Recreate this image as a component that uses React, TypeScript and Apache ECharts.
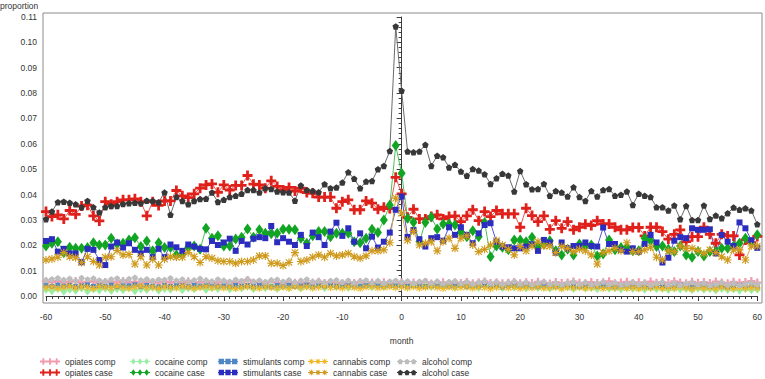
import React, { useEffect, useRef } from "react";
import * as echarts from "echarts";

// month index -60 .. 60
const months: number[] = Array.from({ length: 121 }, (_, i) => i - 60);

const opiatesComp = [
  .0058,.0055,.0060,.0054,.0057,.0059,.0053,.0056,.0058,.0052,
  .0055,.0057,.0053,.0059,.0054,.0056,.0052,.0058,.0055,.0053,
  .0057,.0054,.0056,.0051,.0058,.0053,.0055,.0057,.0052,.0054,
  .0056,.0051,.0055,.0053,.0063,.0052,.0054,.0050,.0056,.0053,
  .0051,.0055,.0052,.0054,.0050,.0053,.0056,.0051,.0054,.0052,
  .0050,.0054,.0051,.0055,.0049,.0053,.0051,.0054,.0050,.0052,
  .0054,.0050,.0053,.0051,.0055,.0049,.0052,.0054,.0050,.0053,
  .0051,.0055,.0050,.0053,.0057,.0051,.0054,.0050,.0052,.0055,
  .0050,.0054,.0051,.0056,.0052,.0049,.0055,.0051,.0053,.0057,
  .0052,.0050,.0055,.0051,.0054,.0058,.0050,.0053,.0056,.0051,
  .0054,.0050,.0057,.0052,.0055,.0051,.0058,.0053,.0050,.0056,
  .0052,.0055,.0051,.0057,.0053,.0050,.0056,.0052,.0055,.0059,
  .0053,
];
const opiatesCase = [
  .0333,.0313,.0320,.0304,.0337,.0322,.0355,.0358,.0316,.0296,
  .0372,.0362,.0372,.0379,.0379,.0383,.0372,.0316,.0372,.0357,
  .0375,.0375,.0416,.0395,.0388,.0403,.0425,.0438,.0442,.0409,
  .0438,.0418,.0436,.0436,.0475,.0441,.0438,.0425,.0454,.0432,
  .0418,.0428,.0414,.0425,.0408,.0405,.0390,.0390,.0390,.0346,
  .0372,.0379,.0340,.0340,.0375,.0366,.0342,.0350,.0345,.0468,
  .0403,.0310,.0342,.0304,.0304,.0313,.0320,.0304,.0313,.0316,
  .0293,.0316,.0340,.0297,.0333,.0313,.0337,.0324,.0324,.0324,
  .0271,.0346,.0317,.0293,.0316,.0263,.0297,.0267,.0293,.0261,
  .0271,.0283,.0278,.0297,.0284,.0284,.0271,.0261,.0261,.0270,
  .0270,.0237,.0271,.0271,.0254,.0224,.0243,.0261,.0214,.0234,
  .0234,.0271,.0243,.0208,.0243,.0237,.0237,.0162,.0221,.0210,
  .0235,
];
const cocaineComp = [
  .0026,.0021,.0030,.0019,.0027,.0023,.0032,.0020,.0028,.0024,
  .0031,.0022,.0029,.0025,.0033,.0021,.0028,.0026,.0034,.0023,
  .0030,.0027,.0035,.0025,.0032,.0029,.0036,.0026,.0033,.0030,
  .0036,.0028,.0034,.0032,.0038,.0029,.0035,.0033,.0039,.0030,
  .0037,.0034,.0040,.0032,.0038,.0035,.0041,.0033,.0039,.0036,
  .0042,.0034,.0040,.0037,.0043,.0035,.0041,.0038,.0044,.0039,
  .0042,.0037,.0043,.0039,.0041,.0036,.0042,.0038,.0040,.0035,
  .0041,.0037,.0039,.0034,.0040,.0036,.0038,.0033,.0039,.0035,
  .0037,.0032,.0038,.0034,.0036,.0031,.0037,.0033,.0035,.0030,
  .0036,.0032,.0034,.0029,.0035,.0031,.0033,.0028,.0034,.0030,
  .0032,.0027,.0033,.0029,.0031,.0026,.0032,.0028,.0030,.0025,
  .0031,.0027,.0029,.0024,.0030,.0026,.0028,.0023,.0029,.0025,
  .0027,
];
const cocaineCase = [
  .0197,.0208,.0214,.0171,.0192,.0188,.0188,.0191,.0210,.0201,
  .0201,.0228,.0205,.0208,.0221,.0230,.0195,.0217,.0178,.0210,
  .0191,.0191,.0162,.0164,.0192,.0197,.0184,.0267,.0228,.0238,
  .0197,.0197,.0225,.0232,.0264,.0232,.0261,.0247,.0245,.0247,
  .0263,.0263,.0261,.0228,.0208,.0238,.0254,.0254,.0234,.0247,
  .0247,.0247,.0214,.0210,.0228,.0263,.0250,.0300,.0359,.0593,
  .0484,.0307,.0291,.0214,.0290,.0311,.0264,.0284,.0284,.0280,
  .0251,.0234,.0257,.0234,.0290,.0155,.0197,.0192,.0182,.0221,
  .0221,.0214,.0232,.0195,.0205,.0218,.0178,.0162,.0184,.0162,
  .0205,.0195,.0201,.0158,.0166,.0221,.0182,.0191,.0192,.0178,
  .0178,.0228,.0218,.0195,.0197,.0184,.0175,.0197,.0162,.0153,
  .0175,.0158,.0175,.0175,.0188,.0188,.0197,.0208,.0228,.0210,
  .0241,
];
const stimulantsComp = [
  .0041,.0038,.0043,.0039,.0042,.0037,.0040,.0044,.0038,.0041,
  .0039,.0043,.0037,.0041,.0040,.0044,.0038,.0042,.0039,.0036,
  .0041,.0038,.0043,.0040,.0037,.0042,.0039,.0041,.0044,.0038,
  .0040,.0037,.0042,.0039,.0041,.0038,.0043,.0040,.0036,.0041,
  .0039,.0042,.0038,.0040,.0043,.0037,.0041,.0039,.0042,.0038,
  .0040,.0043,.0039,.0037,.0041,.0044,.0040,.0038,.0042,.0039,
  .0041,.0038,.0042,.0040,.0037,.0041,.0039,.0043,.0038,.0040,
  .0042,.0037,.0040,.0039,.0043,.0038,.0041,.0036,.0040,.0042,
  .0038,.0041,.0039,.0037,.0042,.0040,.0038,.0041,.0043,.0039,
  .0037,.0040,.0042,.0038,.0041,.0039,.0036,.0040,.0042,.0038,
  .0041,.0039,.0037,.0042,.0040,.0038,.0041,.0043,.0039,.0037,
  .0040,.0042,.0038,.0041,.0039,.0036,.0040,.0042,.0038,.0041,
  .0039,
];
const stimulantsCase = [
  .0217,.0224,.0175,.0186,.0168,.0168,.0133,.0186,.0182,.0142,
  .0122,.0195,.0211,.0191,.0208,.0182,.0168,.0182,.0153,.0186,
  .0153,.0203,.0192,.0178,.0203,.0195,.0186,.0184,.0217,.0201,
  .0211,.0226,.0178,.0217,.0203,.0226,.0232,.0228,.0276,.0212,
  .0228,.0214,.0201,.0241,.0197,.0250,.0232,.0201,.0254,.0289,
  .0237,.0267,.0214,.0247,.0188,.0234,.0191,.0214,.0250,.0340,
  .0392,.0233,.0260,.0224,.0195,.0228,.0232,.0218,.0271,.0241,
  .0271,.0241,.0208,.0247,.0280,.0287,.0214,.0195,.0192,.0188,
  .0188,.0195,.0204,.0178,.0221,.0211,.0171,.0211,.0188,.0197,
  .0197,.0211,.0197,.0195,.0270,.0205,.0205,.0182,.0175,.0188,
  .0175,.0205,.0241,.0211,.0132,.0151,.0218,.0232,.0228,.0267,
  .0261,.0261,.0263,.0168,.0241,.0214,.0197,.0290,.0267,.0220,
  .0190,
];
const cannabisComp = [
  .0033,.0036,.0031,.0035,.0038,.0032,.0036,.0034,.0030,.0037,
  .0035,.0032,.0038,.0034,.0031,.0036,.0039,.0033,.0035,.0031,
  .0036,.0034,.0032,.0038,.0035,.0031,.0034,.0037,.0033,.0036,
  .0032,.0035,.0030,.0034,.0037,.0033,.0031,.0036,.0034,.0032,
  .0035,.0031,.0037,.0033,.0036,.0032,.0034,.0038,.0033,.0035,
  .0031,.0036,.0033,.0030,.0035,.0037,.0032,.0034,.0036,.0033,
  .0035,.0032,.0036,.0031,.0034,.0037,.0033,.0030,.0035,.0032,
  .0034,.0036,.0031,.0035,.0033,.0029,.0034,.0036,.0032,.0035,
  .0030,.0034,.0032,.0036,.0031,.0033,.0035,.0029,.0034,.0032,
  .0035,.0031,.0033,.0036,.0030,.0034,.0032,.0035,.0031,.0033,
  .0029,.0034,.0032,.0035,.0030,.0033,.0031,.0036,.0032,.0028,
  .0034,.0031,.0033,.0029,.0035,.0032,.0030,.0034,.0031,.0033,
  .0032,
];
const cannabisCase = [
  .0142,.0146,.0153,.0171,.0155,.0151,.0132,.0155,.0136,.0122,
  .0153,.0155,.0179,.0162,.0164,.0126,.0155,.0122,.0145,.0122,
  .0145,.0155,.0153,.0153,.0171,.0155,.0132,.0155,.0149,.0139,
  .0136,.0136,.0129,.0136,.0136,.0142,.0158,.0158,.0129,.0129,
  .0120,.0132,.0171,.0136,.0142,.0153,.0162,.0153,.0168,.0158,
  .0162,.0168,.0155,.0149,.0158,.0178,.0178,.0182,.0210,.0386,
  .0326,.0220,.0255,.0201,.0208,.0214,.0178,.0214,.0228,.0188,
  .0228,.0237,.0201,.0175,.0184,.0201,.0218,.0201,.0184,.0162,
  .0195,.0178,.0197,.0214,.0197,.0197,.0171,.0195,.0188,.0175,
  .0184,.0178,.0162,.0126,.0171,.0178,.0188,.0178,.0210,.0175,
  .0175,.0182,.0192,.0153,.0142,.0178,.0175,.0197,.0188,.0188,
  .0179,.0168,.0182,.0171,.0155,.0142,.0182,.0182,.0142,.0197,
  .0197,
];
const alcoholComp = [
  .0063,.0067,.0071,.0064,.0069,.0060,.0072,.0066,.0070,.0062,
  .0059,.0066,.0070,.0061,.0068,.0073,.0063,.0067,.0060,.0065,
  .0064,.0071,.0061,.0066,.0059,.0063,.0069,.0062,.0058,.0066,
  .0061,.0057,.0065,.0060,.0067,.0058,.0062,.0056,.0063,.0065,
  .0057,.0063,.0055,.0061,.0066,.0056,.0060,.0054,.0060,.0063,
  .0055,.0061,.0053,.0059,.0062,.0054,.0060,.0052,.0058,.0061,
  .0056,.0059,.0051,.0057,.0061,.0052,.0058,.0050,.0056,.0059,
  .0051,.0057,.0049,.0055,.0059,.0050,.0056,.0048,.0054,.0058,
  .0049,.0055,.0047,.0053,.0057,.0048,.0052,.0046,.0052,.0056,
  .0048,.0054,.0046,.0050,.0056,.0047,.0053,.0045,.0049,.0055,
  .0047,.0053,.0044,.0051,.0055,.0046,.0052,.0044,.0050,.0054,
  .0046,.0052,.0043,.0048,.0054,.0045,.0051,.0043,.0049,.0053,
  .0047,
];
const alcoholCase = [
  .0303,.0333,.0370,.0372,.0368,.0362,.0350,.0375,.0350,.0329,
  .0350,.0355,.0355,.0363,.0366,.0368,.0366,.0376,.0375,.0370,
  .0408,.0320,.0390,.0375,.0362,.0375,.0382,.0383,.0408,.0371,
  .0379,.0390,.0395,.0403,.0418,.0418,.0408,.0425,.0422,.0412,
  .0409,.0408,.0376,.0436,.0418,.0414,.0409,.0441,.0425,.0428,
  .0447,.0488,.0462,.0425,.0451,.0453,.0500,.0513,.0572,.1063,
  .0809,.0570,.0567,.0570,.0596,.0513,.0553,.0547,.0507,.0517,
  .0491,.0474,.0501,.0495,.0480,.0442,.0464,.0482,.0475,.0412,
  .0493,.0441,.0421,.0422,.0442,.0395,.0414,.0408,.0392,.0429,
  .0390,.0375,.0414,.0392,.0418,.0422,.0395,.0399,.0412,.0359,
  .0403,.0395,.0390,.0350,.0350,.0337,.0357,.0303,.0355,.0300,
  .0300,.0357,.0304,.0317,.0307,.0326,.0349,.0340,.0346,.0337,
  .0283,
];

const FONT = "'Liberation Sans', Arial, sans-serif";
const FS = 8.5;
const TEXT = "#333333";

// marker shapes
const PLUS = "path://M3.6,0H6.4V3.6H10V6.4H6.4V10H3.6V6.4H0V3.6H3.6Z";
const ASTER =
  "path://M4.3,0H5.7V10H4.3Z M0,4.3H10V5.7H0Z M1.5,0.5L9.5,8.5L8.5,9.5L0.5,1.5Z M8.5,0.5L9.5,1.5L1.5,9.5L0.5,8.5Z";
const PENTA = "path://M5,0L10,3.8L8.1,10H1.9L0,3.8Z";

const shapeAt: Record<string, (c: number) => string> = {
  plus: (c) => `M${c - 1.4},0H${c + 1.4}V3.6H${c + 5}V6.4H${c + 1.4}V10H${c - 1.4}V6.4H${c - 5}V3.6H${c - 1.4}Z`,
  diamond: (c) => `M${c},0L${c + 3.5},5L${c},10L${c - 3.5},5Z`,
  square: (c) => `M${c - 4},1H${c + 4}V9H${c - 4}Z`,
  aster: (c) =>
    `M${c - 0.7},1H${c + 0.7}V9H${c - 0.7}Z M${c - 4},4.3H${c + 4}V5.7H${c - 4}Z ` +
    `M${c - 3.5},2.5L${c - 2.5},1.5L${c + 3.5},7.5L${c + 2.5},8.5Z M${c + 2.5},1.5L${c + 3.5},2.5L${c - 2.5},8.5L${c - 3.5},7.5Z`,
  penta: (c) => `M${c},1L${c + 4},4L${c + 2.5},9H${c - 2.5}L${c - 4},4Z`,
};
const icon = (kind: string) =>
  "path://M0,4.4H30V5.6H0Z " + [5, 15, 25].map(shapeAt[kind]).join(" ");

type Def = {
  name: string;
  data: number[];
  symbol: string;
  size: number | number[];
  color: string;
  line: string;
  kind: string;
};

const defs: Def[] = [
  { name: "opiates comp", data: opiatesComp, symbol: PLUS, size: 8, color: "#F29AAE", line: "#F29AAE", kind: "plus" },
  { name: "opiates case", data: opiatesCase, symbol: PLUS, size: 10, color: "#E0211B", line: "#E45A55", kind: "plus" },
  { name: "cocaine comp", data: cocaineComp, symbol: "diamond", size: [7, 9], color: "#98EFA4", line: "#98EFA4", kind: "diamond" },
  { name: "cocaine case", data: cocaineCase, symbol: "diamond", size: [8, 11], color: "#12A524", line: "#4CC058", kind: "diamond" },
  { name: "stimulants comp", data: stimulantsComp, symbol: "rect", size: 5, color: "#4F86C6", line: "#4F86C6", kind: "square" },
  { name: "stimulants case", data: stimulantsCase, symbol: "rect", size: 6, color: "#2B2DBE", line: "#5456CC", kind: "square" },
  { name: "cannabis comp", data: cannabisComp, symbol: ASTER, size: 7, color: "#F2B622", line: "#F2B622", kind: "aster" },
  { name: "cannabis case", data: cannabisCase, symbol: ASTER, size: 8, color: "#CF9A1C", line: "#D8A940", kind: "aster" },
  { name: "alcohol comp", data: alcoholComp, symbol: PENTA, size: 6, color: "#BDBDBD", line: "#C8C8C8", kind: "penta" },
  { name: "alcohol case", data: alcoholCase, symbol: PENTA, size: 6.5, color: "#383838", line: "#6A6A6A", kind: "penta" },
];

const legendLefts = [40, 130, 218, 308, 397];

export default function App() {
  const ref = useRef<HTMLDivElement>(null);

  useEffect(() => {
    if (!ref.current) return;
    const chart = echarts.init(ref.current, null, { renderer: "svg" });

    const series = defs.map((d) => ({
      name: d.name,
      type: "line",
      data: months.map((m, i) => [m, d.data[i]]),
      symbol: d.symbol,
      symbolSize: d.size,
      showSymbol: true,
      itemStyle: { color: d.color },
      lineStyle: { color: d.line, width: 1 },
      emphasis: { disabled: true },
    }));

    const legends = [0, 1, 2, 3, 4].map((k) => ({
      orient: "vertical",
      left: legendLefts[k],
      top: 357,
      width: 90,
      height: 22,
      padding: 0,
      itemGap: 2,
      itemWidth: 20,
      itemHeight: 7,
      selectedMode: false,
      textStyle: { fontFamily: FONT, fontSize: FS, color: TEXT },
      data: [defs[2 * k], defs[2 * k + 1]].map((d) => ({ name: d.name, icon: icon(d.kind) })),
    }));

    chart.setOption({
      animation: false,
      backgroundColor: "#ffffff",
      title: {
        text: "proportion",
        left: 0,
        top: 1,
        padding: 0,
        textStyle: { fontFamily: FONT, fontSize: FS, fontWeight: "normal", color: TEXT },
      },
      grid: { left: 46, right: 6, top: 17, bottom: 83 },
      xAxis: {
        type: "value",
        min: -60,
        max: 60,
        interval: 10,
        offset: 7,
        name: "month",
        nameLocation: "middle",
        nameGap: 33,
        nameTextStyle: { fontFamily: FONT, fontSize: FS, color: TEXT },
        axisLine: { show: true, lineStyle: { color: "#3c3c3c", width: 1 } },
        axisTick: { show: true, length: 5, lineStyle: { color: "#3c3c3c" } },
        minorTick: { show: true, splitNumber: 10, length: 3, lineStyle: { color: "#3c3c3c" } },
        axisLabel: { fontFamily: FONT, fontSize: FS, color: TEXT, margin: 9 },
        splitLine: { show: false },
      },
      yAxis: {
        type: "value",
        min: 0,
        max: 0.11,
        interval: 0.01,
        offset: 3,
        axisLine: { show: true, lineStyle: { color: "#3c3c3c", width: 1 } },
        axisTick: { show: true, length: 5, lineStyle: { color: "#3c3c3c" } },
        minorTick: { show: true, splitNumber: 5, length: 3, lineStyle: { color: "#3c3c3c" } },
        axisLabel: {
          fontFamily: FONT,
          fontSize: FS,
          color: TEXT,
          margin: 6,
          formatter: (v: number) => v.toFixed(2),
        },
        splitLine: { show: false },
      },
      legend: legends,
      graphic: [
        {
          type: "rect",
          silent: true,
          z: -1,
          shape: { x: 43, y: 13, width: 719, height: 290 },
          style: { fill: "none", stroke: "#8a8a8a", lineWidth: 1 },
        },
      ],
      series,
    });

    return () => chart.dispose();
  }, []);

  return (
    <div
      ref={ref}
      style={{ position: "absolute", left: 0, top: 0, width: 765, height: 379 }}
    />
  );
}
